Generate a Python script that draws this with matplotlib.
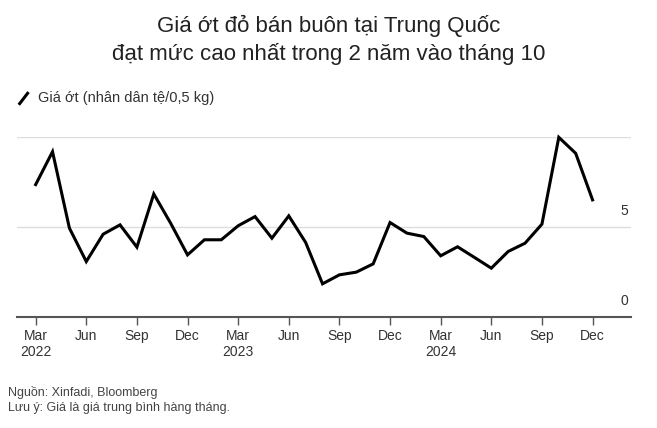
import matplotlib
matplotlib.use("Agg")
import matplotlib.pyplot as plt
from matplotlib.lines import Line2D
plt.rcParams["font.family"] = "Liberation Sans"

months = list(range(34))  # Mar 2022 .. Dec 2024
prices = [7.35, 9.18, 4.93, 3.07, 4.59, 5.11, 3.87, 6.83, 5.2, 3.44, 4.28, 4.28,
          5.06, 5.57, 4.37, 5.61, 4.13, 1.83, 2.33, 2.48, 2.94, 5.24, 4.65, 4.46,
          3.39, 3.89, 3.30, 2.70, 3.63, 4.09, 5.15, 9.98, 9.09, 6.5]
tick_pos = list(range(0, 34, 3))
tick_labels = ["Mar\n2022", "Jun", "Sep", "Dec", "Mar\n2023", "Jun", "Sep", "Dec",
               "Mar\n2024", "Jun", "Sep", "Dec"]
y_ticks = [0, 5, 10]

fig = plt.figure(figsize=(6.57, 4.28), dpi=100)
ax = fig.add_axes([0.026, 0.26, 0.935, 0.42])
ax.plot(months, prices, color="black", lw=2.2, clip_on=False, solid_joinstyle="miter")
ax.set_xlim(-1.1, 35.3)
ax.set_ylim(0, 10)
for v in y_ticks[1:]:
    ax.axhline(v, color="#dddddd", lw=1, zorder=0)
for v in y_ticks[:2]:
    ax.text(35.1, v + 0.5, str(v), ha="right", va="bottom", fontsize=10, color="#333333")
for s in ["top", "right", "left"]:
    ax.spines[s].set_visible(False)
ax.spines["bottom"].set_color("#555555")
ax.spines["bottom"].set_linewidth(1.5)
ax.set_yticks([])
ax.set_xticks(tick_pos)
ax.set_xticklabels(tick_labels, fontsize=10, color="#333333")
ax.tick_params(axis="x", length=6, width=1, color="#555555", pad=3)

fig.text(0.5, 0.965, "Giá ớt đỏ bán buôn tại Trung Quốc\nđạt mức cao nhất trong 2 năm vào tháng 10",
         ha="center", va="top", fontsize=16, color="#222222", linespacing=1.35)
fig.add_artist(Line2D([0.030, 0.042], [0.758, 0.782], color="black", lw=2.2))
fig.text(0.058, 0.77, "Giá ớt (nhân dân tệ/0,5 kg)", ha="left", va="center", fontsize=10.5, color="#333333")
fig.text(0.012, 0.065, "Nguồn: Xinfadi, Bloomberg\nLưu ý: Giá là giá trung bình hàng tháng.",
         ha="left", va="center", fontsize=9, color="#444444", linespacing=1.4)
fig.savefig("out.png", dpi=100, facecolor="white")
